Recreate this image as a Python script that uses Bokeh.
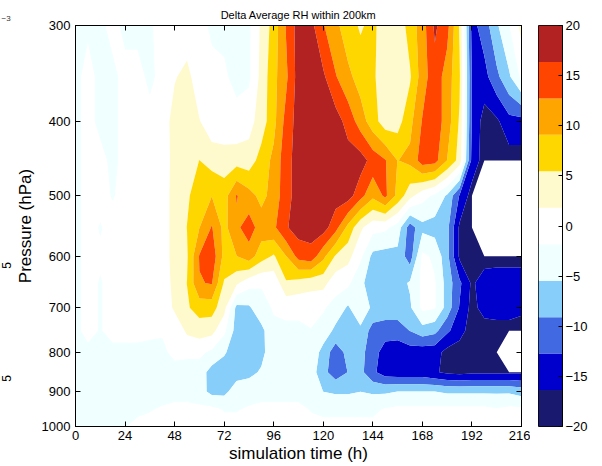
import numpy as np
from math import pi
from bokeh.plotting import figure
from bokeh.layouts import row
from bokeh.models import Range1d, FixedTicker, LinearAxis, LogAxis
from bokeh.core.properties import value
from bokeh.embed import file_html
from bokeh.resources import INLINE

FONT = "Liberation Sans"

# simulation time (h) and pressure levels (hPa) of the field grid
times = list(range(0, 217, 6))
pressures = [300, 350, 400, 450, 500, 550, 600, 650, 700, 750, 800, 850, 900, 950, 1000]

nan = float("nan")
# Delta average RH (%), one list per pressure level
rh_300 = [-2.5, -2.2, -2.4, -1.0, -2.5, -2.5, -2.3, -0.5, -2.0, -0.5,
          -1.0, -2.3, -2.3, -2.5, -2.5, 2.5, 7, 13, 18, 17.5,
          13, 10, 7, 5, 6.5, 3, 3, 7, 11, 17,
          14, 5, -14, -11, -6, -2, 3]
rh_350 = [-2.5, -1, -2.5, -2.5, -1, -1, -2.4, -1, 1.5, 3,
          -0.5, -1, -1.5, -2.5, -2.5, 3, 8, 12, 18, 18,
          17, 13, 10, 7.5, 6, 3.5, 3, 5, 11, 15,
          11, 6, -13, -14, -10, -6, -1]
rh_400 = [-2.5, -1, -2.5, -2.5, -1, -1, -1, -0.5, 3.5, 3.5,
          2, -0.5, -0.5, -1, 0.5, 3.5, 8, 14, 18, 18,
          18, 18, 15, 11, 7, 3.5, 4, 8, 13, 15,
          11, 5, -13, -18, -17, -14, -14]
rh_450 = [-2.5, -1, -1, -2.5, -1, -1, -1, -1, 3.5, 3.5,
          5.5, 4, 3.5, 4, 3.5, 7, 10, 15, 18, 18,
          18, 18, 18, 18, 15, 13, 9, 10, 14.5, 14,
          9, 4, -14, -18, -18, -18, -18]
rh_500 = [-2.5, -1, -1, -2, -1, -1, -1, -0.5, 3.5, 5,
          7, 9, 7.5, 13, 10.5, 8, 10.5, 15, 18, 18,
          18, 18, 18, 14, 10, 13.5, 8, 3, -0.5, -2.5,
          -6, -13, -18, nan, nan, nan, nan]
rh_550 = [-2.5, -1, -2, -1, -1, -1, -1, -0.5, 3.5, 5.5,
          9, 13, 8, 12, 14.5, 11, 12, 16, 18, 18,
          18, 14, 8, 2.5, -0.5, -1, -3.5, -11, -6.5, -7,
          -8, -17, -18, nan, nan, nan, nan]
rh_600 = [-2.5, -1, -1.5, -1, -1, -1, -1, -0.5, 3.5, 5,
          13, 15, 8, 9, 11, 7, 5, 9, 14, 15,
          10, 5, 3, -1, -6.5, -7, -6.5, -11, -1, -2.5,
          -8, -17, -18, -18, -18, -18, -18]
rh_650 = [-2.5, -1, -2, -1, -1, -1, -1, -0.5, 3, 5.5,
          12.5, 13, 5, 2.5, -0.5, -1.5, -1, 5, 4, 3,
          3, -0.5, -1, -5, -6.5, -7, -7, -5, -1, -1.5,
          -7, -12, -17, -14.5, -14, -14, -14]
rh_700 = [-2.5, -1, -2, -1, -1, -1, -1, -1, 2.5, 5,
          7, 7, 3, -6.5, -6, -3, -1.5, -1, -1, -0.5,
          -1.5, -3, -6, -2, -6.5, -7, -7, -6, -1, -1.5,
          -7, -13, -17.5, -15, -14.5, -14.5, -15.5]
rh_750 = [-2.5, -1, -2, -1, -1, -1, -1, -1.5, -1, 2.5,
          3.5, 3, -1, -7, -6, -6.5, -2.5, -2.5, -2.5, -2,
          -3, -6.5, -7, -6.5, -10.5, -11, -11, -9, -7, -8,
          -12, -15, -18, -18, -18, -18, -18]
rh_800 = [-2.5, -2.5, -2.5, -2.5, -2.5, -2.5, -3, -2.5, -1, -1,
          -1, -2.5, -5, -7.5, -7, -6.5, -3, -3, -2.5, -2.5,
          -7, -11, -8, -8, -11, -14.5, -15, -14.5, -15, -15,
          -17.5, -18, -18, -18, -17, nan, nan]
rh_850 = [-3, -3, -3, -3, -3, -3, -3, -3, -3, -3.5,
          -3.5, -7, -7.5, -7, -6.5, -5, -3, -3, -3, -3.5,
          -8, -11, -9, -8, -12, -14.5, -15, -15, -15, -16,
          -17, -17.5, -17, -17, -17, -17, -17]
rh_900 = [-3, -3, -3, -3, -3, -2.5, -2.5, -3, -3, -3,
          -4, -6.5, -6.5, -3.5, -3, -3, -3, -3, -3, -3,
          -5.5, -6, -6, -5.5, -6, -6, -5.5, -5.5, -5.5, -5.5,
          -6, -6, -6, -6, -6, -6, -7]
rh_950 = [-2.5, -2.5, -2.5, -2.5, -2.5, -2.5, -2, -1.5, -1, -1,
          -1, -1, -2, -2, -1.5, -1, -1, -1, -1, -2,
          -2.5, -2.5, -2.5, -2.5, -2.5, -1.5, -1, -1, -1, -1,
          -1, -1, -1, -1, -1.5, -1, -1]
rh_1000 = [-2.5, -2.5, -2, -2.5, -2, -1, -1, -1, -1, -1,
           -1, -1, -1, -1, -1, -1, -1, -1, -1, -1,
           -1, -1, -1, -1, -1, -1, -1, -1, -1, -1,
           -1, -1, -1, -1, -1, -1, -1]

# contour levels and colours
levels = [-20, -16.36, -12.73, -9.09, -5.45, -1.82, 1.82, 5.45, 9.09, 12.73, 16.36, 20]
band_colors = ["#191970", "#0000CD", "#4169E1", "#87CEFA", "#F0FFFF", "#FFFFFF",
               "#FFFACD", "#FFD700", "#FFA500", "#FF4500", "#B22222"]

x_ticks = [0, 24, 48, 72, 96, 120, 144, 168, 192, 216]
p_ticks = [300, 400, 500, 600, 700, 800, 900, 1000]
p_tick_labels = ["300", "400", "500", "600", "700", "800", "900", "1000"]
cbar_ticks = [-20, -15, -10, -5, 0, 5, 10, 15, 20]
cbar_tick_labels = ["\u221220", "\u221215", "\u221210", "\u22125", "0", "5", "10", "15", "20"]

title_text = "Delta Average RH within 200km"
x_label = "simulation time (h)"
y_label = "Pressure (hPa)"

# fragments of the neighbouring panel that show at the left edge
edge_top_text = "\u22123"
edge_side_texts = ["5", "5"]

Z = np.array([rh_300, rh_350, rh_400, rh_450, rh_500, rh_550, rh_600, rh_650,
              rh_700, rh_750, rh_800, rh_850, rh_900, rh_950, rh_1000], dtype=float)

# --- narrow strip holding the cut-off texts of the neighbouring panel ---
# its frame is aligned with the main frame (canvas rows 25..426); y counts pixels from the bottom
edge = figure(width=12, height=466, x_range=Range1d(0, 12), y_range=Range1d(40, 441),
              output_backend="svg", toolbar_location=None, x_axis_location=None,
              y_axis_location=None, min_border_left=0, min_border_right=0,
              min_border_top=25, min_border_bottom=40, outline_line_color=None,
              background_fill_color="white", border_fill_color="white")
edge.grid.visible = False
edge.title.text = edge_top_text
edge.title.text_font = FONT
edge.title.text_font_size = "8px"
edge.title.text_font_style = "normal"
edge.title.text_color = "#333333"
edge.title.align = "left"
edge.title.offset = 1
edge.text(x=[5.5, 5.5], y=[201, 88], text=edge_side_texts, angle=pi / 2, text_font=value(FONT),
          text_font_size="12px", text_color="black", text_align="center",
          text_baseline="middle")

# --- main contour panel ---
p = figure(width=518, height=466, x_range=Range1d(0, 216), y_range=Range1d(1000, 300),
           y_axis_type="log", output_backend="svg", toolbar_location=None,
           min_border_left=61, min_border_right=9, min_border_top=25, min_border_bottom=40,
           background_fill_color="white", border_fill_color="white")

p.contour(x=times, y=pressures, z=Z, levels=levels, fill_color=band_colors, line_color=None)

p.grid.visible = False
p.outline_line_color = "black"
p.outline_line_width = 1

p.title.text = title_text
p.title.align = "center"
p.title.text_font = FONT
p.title.text_font_size = "11px"
p.title.text_font_style = "normal"
p.title.text_color = "black"

for ax in (p.xaxis[0], p.yaxis[0]):
    ax.major_tick_in = 5
    ax.major_tick_out = 0
    ax.minor_tick_line_color = None
    ax.axis_line_color = "black"
    ax.major_tick_line_color = "black"
    ax.major_label_text_font = FONT
    ax.major_label_text_font_size = "13px"
    ax.major_label_text_color = "black"
    ax.axis_label_text_font = FONT
    ax.axis_label_text_font_size = "17px"
    ax.axis_label_text_font_style = "normal"
    ax.axis_label_text_color = "black"

p.xaxis.ticker = FixedTicker(ticks=x_ticks)
p.xaxis.axis_label = x_label
p.xaxis.major_label_standoff = 4
p.xaxis.axis_label_standoff = 1
p.yaxis.ticker = FixedTicker(ticks=p_ticks)
p.yaxis.major_label_overrides = dict(zip(p_ticks, p_tick_labels))
p.yaxis.axis_label = y_label
p.yaxis.major_label_standoff = 5
p.yaxis.axis_label_standoff = 4

top_axis = LinearAxis(ticker=FixedTicker(ticks=x_ticks), major_tick_in=5, major_tick_out=0,
                      minor_tick_line_color=None, major_label_text_font_size="1px",
                      major_label_text_color=None, major_label_standoff=0,
                      axis_line_color="black")
p.add_layout(top_axis, "above")
right_axis = LogAxis(ticker=FixedTicker(ticks=p_ticks), major_tick_in=5, major_tick_out=0,
                     minor_tick_line_color=None, major_label_text_font_size="1px",
                     major_label_text_color=None, major_label_standoff=0,
                     axis_line_color="black")
p.add_layout(right_axis, "right")

# --- colour bar ---
cb = figure(width=72, height=466, x_range=Range1d(0, 1), y_range=Range1d(-20, 20),
            output_backend="svg", toolbar_location=None, x_axis_location=None,
            y_axis_location="right", min_border_left=8, min_border_right=40,
            min_border_top=25, min_border_bottom=40,
            background_fill_color="white", border_fill_color="white")
cb.quad(left=0, right=1, bottom=levels[:-1], top=levels[1:], fill_color=band_colors, line_color=None)
cb.grid.visible = False
cb.outline_line_color = "black"
cb.yaxis.ticker = FixedTicker(ticks=cbar_ticks)
cb.yaxis.major_label_overrides = dict(zip(cbar_ticks, cbar_tick_labels))
cb.yaxis.major_tick_in = 4
cb.yaxis.major_tick_out = 0
cb.yaxis.minor_tick_line_color = None
cb.yaxis.axis_line_color = "black"
cb.yaxis.major_label_text_font = FONT
cb.yaxis.major_label_text_font_size = "13px"
cb.yaxis.major_label_text_color = "black"
cb.yaxis.major_label_standoff = 3

layout = row(edge, p, cb)
open("out.html", "w").write(file_html(layout, INLINE))
